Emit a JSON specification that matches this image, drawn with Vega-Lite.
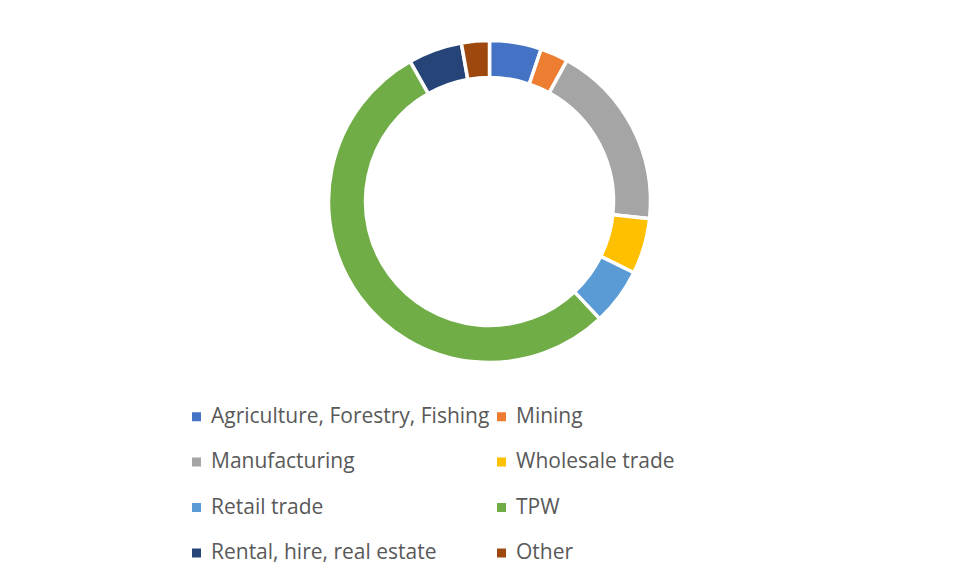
{
  "$schema": "https://vega.github.io/schema/vega-lite/v6.json",
  "width": 979,
  "height": 403,
  "padding": {"left": 0, "top": 0, "right": 0, "bottom": 20},
  "autosize": {"type": "pad"},
  "background": "white",
  "view": {"stroke": null},
  "data": {
    "values": [
      {"sector": "Agriculture, Forestry, Fishing", "share": 5.2, "idx": 1},
      {"sector": "Mining", "share": 2.8, "idx": 2},
      {"sector": "Manufacturing", "share": 18.7, "idx": 3},
      {"sector": "Wholesale trade", "share": 5.6, "idx": 4},
      {"sector": "Retail trade", "share": 5.7, "idx": 5},
      {"sector": "TPW", "share": 53.8, "idx": 6},
      {"sector": "Rental, hire, real estate", "share": 5.4, "idx": 7},
      {"sector": "Other", "share": 2.8, "idx": 8}
    ]
  },
  "mark": {"type": "arc", "outerRadius": 161, "innerRadius": 124, "stroke": "white", "strokeWidth": 3.5},
  "encoding": {
    "theta": {"field": "share", "type": "quantitative", "stack": true},
    "order": {"field": "idx", "type": "quantitative"},
    "color": {
      "field": "sector",
      "type": "nominal",
      "scale": {
        "domain": ["Agriculture, Forestry, Fishing", "Mining", "Manufacturing", "Wholesale trade", "Retail trade", "TPW", "Rental, hire, real estate", "Other"],
        "range": ["#4472C4", "#ED7D31", "#A5A5A5", "#FFC000", "#5B9BD5", "#70AD47", "#264478", "#9E480E"]
      },
      "legend": {
        "title": null,
        "orient": "none",
        "direction": "horizontal",
        "legendX": 186,
        "legendY": 406,
        "columns": 2,
        "columnPadding": 1,
        "rowPadding": 23.5,
        "symbolType": "square",
        "symbolSize": 81,
        "symbolStrokeWidth": 0,
        "labelOffset": 4,
        "labelFont": "Open Sans",
        "labelFontSize": 21,
        "labelColor": "#595959",
        "labelLimit": 400,
        "padding": 0
      }
    }
  }
}
